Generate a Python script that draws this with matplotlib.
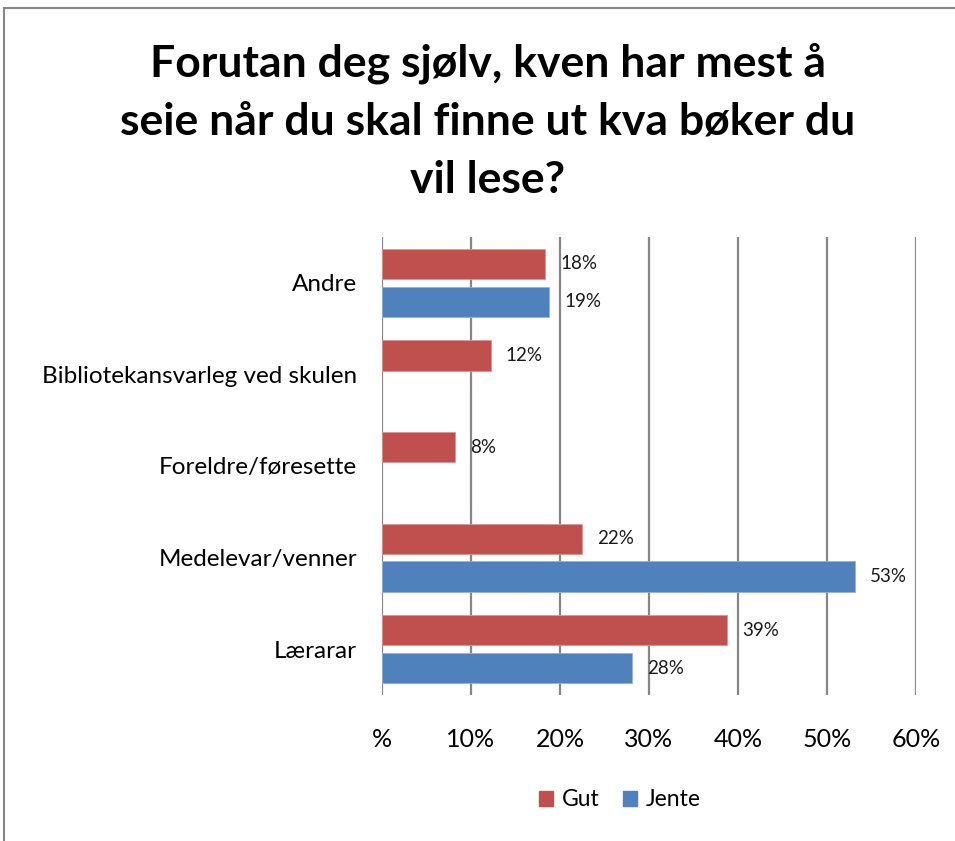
import matplotlib
matplotlib.use("Agg")
import matplotlib.pyplot as plt
from matplotlib.lines import Line2D
from matplotlib.patches import Rectangle
import numpy as np

categories = ["Andre", "Bibliotekansvarleg ved skulen", "Foreldre/føresette",
              "Medelevar/venner", "Lærarar"]
gut = [18.3, 12.2, 8.2, 22.5, 38.8]
jente = [18.8, np.nan, np.nan, 53.1, 28.1]
xticks = [0, 10, 20, 30, 40, 50, 60]
xticklabels = ["%", "10%", "20%", "30%", "40%", "50%", "60%"]
title = "Forutan deg sjølv, kven har mest å\nseie når du skal finne ut kva bøker du\nvil lese?"

RED = "#C0504D"
BLUE = "#4F81BD"
GRID = "#868686"
FONT = ["Lato", "DejaVu Sans"]
plt.rcParams["font.family"] = FONT

W, H = 955, 841
fig = plt.figure(figsize=(W / 100, H / 100), dpi=100)
ax = fig.add_axes([382 / W, 1 - 695 / H, (916 - 382) / W, (695 - 237) / H])

y = np.arange(len(categories))
h = 0.33
off = 0.207
ax.barh(y - off, gut, height=h, color=RED, edgecolor="#D99694", linewidth=0.6, label="Gut", zorder=3)
ax.barh(y + off, jente, height=h, color=BLUE, edgecolor="#95B3D7", linewidth=0.6, label="Jente", zorder=3)

for yi, v in zip(y, gut):
    if not np.isnan(v):
        ax.annotate(f"{v:.0f}%", (v, yi - off), xytext=(11, 0), textcoords="offset points",
                    ha="left", va="center", fontsize=13.5, color="#1a1a1a")
for yi, v in zip(y, jente):
    if not np.isnan(v):
        ax.annotate(f"{v:.0f}%", (v, yi + off), xytext=(11, 0), textcoords="offset points",
                    ha="left", va="center", fontsize=13.5, color="#1a1a1a")

ax.set_xlim(0, 60)
ax.set_ylim(len(categories) - 0.5, -0.5)
ax.set_xticks(xticks)
ax.set_xticklabels(xticklabels, fontsize=18)
ax.set_yticks(y)
ax.set_yticklabels(categories, fontsize=17.5)
ax.tick_params(axis="x", length=0, pad=24)
ax.tick_params(axis="y", length=0, pad=18)
ax.grid(axis="x", color=GRID, linewidth=1.6, zorder=0)
for s in ax.spines.values():
    s.set_visible(False)

fig.text(488 / W, 1 - 121 / H, title, ha="center", va="center", fontsize=32,
         fontweight="bold", linespacing=1.55)

handles = [Rectangle((0, 0), 1, 1, color=RED), Rectangle((0, 0), 1, 1, color=BLUE)]
fig.legend(handles, ["Gut", "Jente"], loc="center", bbox_to_anchor=(620 / W, 1 - 800 / H),
           ncol=2, frameon=False, fontsize=16.5, handlelength=0.6, handleheight=0.6,
           handletextpad=0.4, columnspacing=1.0)

fig.add_artist(Line2D([4 / W, 4 / W], [0, 1 - 8 / H], color=GRID, linewidth=1.5))
fig.add_artist(Line2D([4 / W, 1], [1 - 8 / H, 1 - 8 / H], color=GRID, linewidth=1.5))

fig.savefig("out.png", dpi=100, facecolor="white")
